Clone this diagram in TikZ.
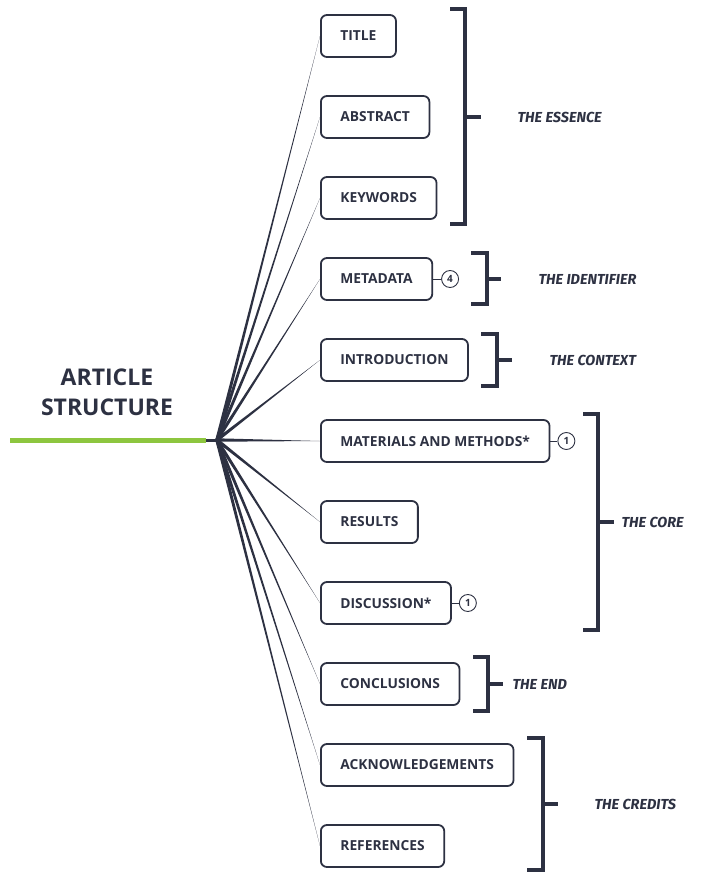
\documentclass[tikz,border=0pt]{standalone}
\usepackage{fontspec}
\setmainfont{Open Sans}
\newfontfamily\labelfont{Fira Sans}
\usetikzlibrary{calc}
\definecolor{dark}{RGB}{45,49,66}
\definecolor{leaf}{RGB}{141,198,63}
\tikzset{
  box/.style={draw=dark, line width=1.8pt, rounded corners=6pt, anchor=west,
    minimum height=42pt, inner xsep=19.5pt, text=dark,
    font=\fontsize{13.8}{16}\selectfont\bfseries},
  numc/.style={draw=dark, line width=0.9pt, circle, minimum size=17pt, inner sep=0pt,
    text=dark, font=\fontsize{10}{11}\selectfont\bfseries},
  bracket/.style={draw=dark, line width=3.5pt, line cap=butt, line join=miter},
  grp/.style={anchor=west, text=dark, font=\labelfont\fontsize{14.5}{16}\selectfont\bfseries\itshape},
  spoke/.style={fill=dark}
}
\begin{document}
\begin{tikzpicture}[x=1pt,y=-1pt]
\useasboundingbox (0,0) rectangle (708,873);
% title
\node[text=dark, font=\fontsize{23}{30}\selectfont\bfseries, align=center] (head) at (107,392) {ARTICLE\\STRUCTURE};
% green stem
\coordinate (stem) at (10,440);
\coordinate (hub) at (217,440);
\coordinate (stemend) at (206,440);
\draw[leaf, line width=5pt] (stem) -- (stemend);
\draw[dark, line width=3pt] (stemend) -- (hub);
% boxes
\node[box] (title) at (320,36) {TITLE};
\node[box] (abs) at (320,117) {ABSTRACT};
\node[box] (key) at (320,198) {KEYWORDS};
\node[box] (meta) at (320,279) {METADATA};
\node[box] (intro) at (320,360) {INTRODUCTION};
\node[box] (mat) at (320,441) {MATERIALS AND METHODS*};
\node[box] (res) at (320,522) {RESULTS};
\node[box] (disc) at (320,603) {DISCUSSION*};
\node[box] (conc) at (320,684) {CONCLUSIONS};
\node[box] (ack) at (320,765) {ACKNOWLEDGEMENTS};
\node[box] (ref) at (320,846) {REFERENCES};
% spokes (tapered)
\foreach \b in {title,abs,key,meta,intro,mat,res,disc,conc,ack,ref}{
  \fill[spoke] ($(hub)!1.7pt!90:(\b.west)$) -- (\b.west) -- ($(hub)!1.7pt!-90:(\b.west)$) -- cycle;
}
% numbered circles
\node[numc, anchor=west] (c4) at ($(meta.east)+(8,0)$) {4};
\draw[dark, line width=0.8pt] (meta.east) -- (c4.west);
\node[numc, anchor=west] (c1a) at ($(mat.east)+(7,0)$) {1};
\draw[dark, line width=0.8pt] (mat.east) -- (c1a.west);
\node[numc, anchor=west] (c1b) at ($(disc.east)+(7,0)$) {1};
\draw[dark, line width=0.8pt] (disc.east) -- (c1b.west);
% brackets
\draw[bracket] (450,9) -- (465,9) -- (465,224) -- (450,224);
\coordinate (bEss) at (465,117);
\draw[bracket] (bEss) -- ++(16,0);
\node[grp] (gEss) at (514,117) {THE ESSENCE};

\draw[bracket] (471,253) -- (487,253) -- (487,304) -- (471,304);
\coordinate (bId) at (487,279);
\draw[bracket] (bId) -- ++(14,0);
\node[grp] (gId) at (535,279) {THE IDENTIFIER};

\draw[bracket] (481,334) -- (497,334) -- (497,386) -- (481,386);
\coordinate (bCtx) at (497,360);
\draw[bracket] (bCtx) -- ++(15,0);
\node[grp] (gCtx) at (546,360) {THE CONTEXT};

\draw[bracket] (583,414) -- (598,414) -- (598,630) -- (583,630);
\coordinate (bCore) at (598,522);
\draw[bracket] (bCore) -- ++(16,0);
\node[grp] (gCore) at (618,522) {THE CORE};

\draw[bracket] (473,657) -- (488,657) -- (488,711) -- (473,711);
\coordinate (bEnd) at (488,684);
\draw[bracket] (bEnd) -- ++(15,0);
\node[grp] (gEnd) at (509,684) {THE END};

\draw[bracket] (527,738) -- (543,738) -- (543,870) -- (527,870);
\coordinate (bCr) at (543,804);
\draw[bracket] (bCr) -- ++(15,0);
\node[grp] (gCr) at (591,804) {THE CREDITS};
\end{tikzpicture}
\end{document}
